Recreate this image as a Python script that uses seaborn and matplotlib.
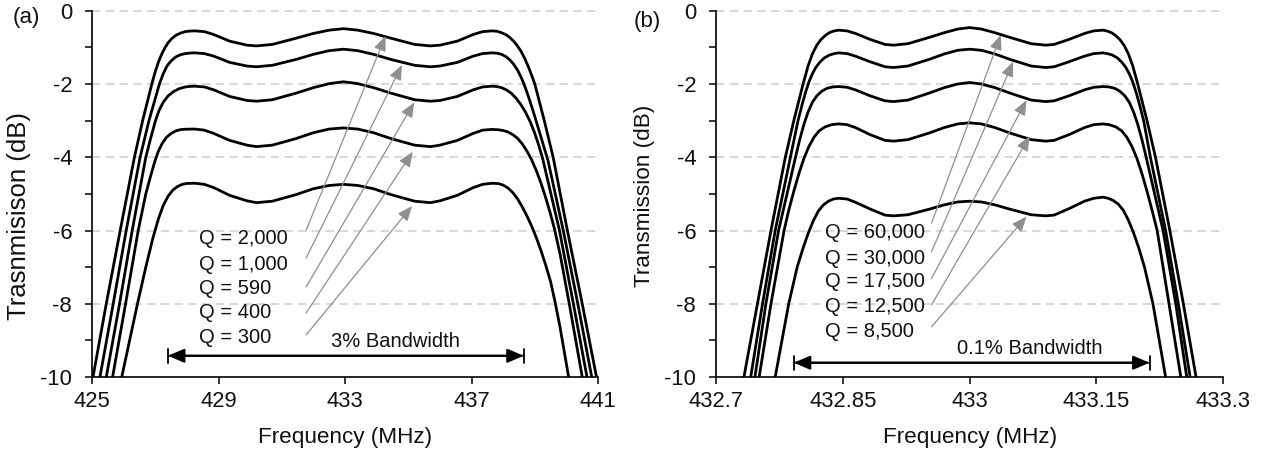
import matplotlib
matplotlib.use("Agg")
import matplotlib.pyplot as plt
import seaborn as sns
import pandas as pd

# ---------------- data ----------------
# Panel (a): frequency in MHz, transmission in dB
a_q_labels = ["Q = 2,000", "Q = 1,000", "Q = 590", "Q = 400", "Q = 300"]
a_plateau_f = [428.25, 428.55, 428.85, 429.35, 429.9, 430.2, 430.7, 431.45, 432.0, 432.5, 432.95,
               433.4, 433.9, 434.45, 435.2, 435.7, 436.0, 436.55, 437.05, 437.35, 437.65]

a1_left_f = [424.86, 425.03, 425.45, 425.89, 426.34, 426.6, 426.89, 427.0, 427.1, 427.2, 427.3,
             427.4, 427.52, 427.65, 427.8, 427.95, 428.1]
a1_left_db = [-10.8, -10, -8, -6, -4, -3, -2, -1.66, -1.4, -1.19, -1.02, -0.88, -0.76, -0.67,
              -0.61, -0.57, -0.555]
a1_plateau_db = [-0.55, -0.57, -0.65, -0.83, -0.94, -0.96, -0.92, -0.75, -0.62, -0.53, -0.49,
                 -0.53, -0.62, -0.75, -0.92, -0.96, -0.94, -0.83, -0.65, -0.57, -0.55]
a1_right_f = [437.8, 437.95, 438.1, 438.22, 438.34, 438.45, 438.56, 438.68, 438.8, 438.9, 439.0,
              439.3, 439.58, 440.03, 440.5, 440.95, 441.15]
a1_right_db = [-0.56, -0.6, -0.66, -0.74, -0.84, -0.96, -1.1, -1.3, -1.54, -1.76, -2.0, -3.0,
               -4.0, -6.0, -8.0, -10.0, -10.8]

a2_left_f = [425.08, 425.25, 425.67, 426.08, 426.52, 426.8, 427.13, 427.25, 427.37, 427.5, 427.65,
             427.8, 427.95, 428.1]
a2_left_db = [-10.8, -10, -8, -6, -4, -3, -2, -1.72, -1.51, -1.37, -1.26, -1.2, -1.17, -1.155]
a2_plateau_db = [-1.15, -1.17, -1.24, -1.41, -1.51, -1.53, -1.49, -1.33, -1.19, -1.09, -1.05,
                 -1.09, -1.19, -1.33, -1.49, -1.53, -1.51, -1.41, -1.24, -1.17, -1.15]
a2_right_f = [437.8, 437.95, 438.1, 438.22, 438.34, 438.46, 438.58, 438.7, 438.82, 438.94, 439.06,
              439.42, 439.9, 440.36, 440.8, 441.0]
a2_right_db = [-1.16, -1.19, -1.26, -1.35, -1.47, -1.63, -1.84, -2.1, -2.4, -2.72, -3.06, -4.1,
               -6.0, -8.0, -10.0, -10.8]

a3_left_f = [425.28, 425.45, 425.87, 426.27, 426.7, 426.86, 427.0, 427.12, 427.25, 427.4, 427.57,
             427.75, 427.95, 428.1]
a3_left_db = [-10.8, -10, -8, -6, -4, -3.46, -3.02, -2.72, -2.5, -2.33, -2.21, -2.13, -2.08, -2.065]
a3_plateau_db = [-2.06, -2.08, -2.16, -2.34, -2.45, -2.47, -2.43, -2.25, -2.1, -1.99, -1.94,
                 -1.99, -2.1, -2.25, -2.43, -2.47, -2.45, -2.34, -2.16, -2.08, -2.06]
a3_right_f = [437.8, 437.95, 438.1, 438.25, 438.4, 438.55, 438.7, 438.85, 439.0, 439.12, 439.25,
              439.78, 440.22, 440.65, 440.85]
a3_right_db = [-2.07, -2.1, -2.16, -2.25, -2.38, -2.55, -2.76, -3.02, -3.35, -3.66, -4.04, -6.0,
               -8.0, -10.0, -10.8]

a4_left_f = [425.48, 425.65, 426.06, 426.46, 426.7, 426.85, 426.99, 427.1, 427.22, 427.35, 427.5,
             427.65, 427.8, 427.95]
a4_left_db = [-10.8, -10, -8, -6, -5, -4.52, -4.1, -3.83, -3.62, -3.46, -3.35, -3.28, -3.245, -3.235]
a4_plateau_db = [-3.23, -3.26, -3.35, -3.54, -3.67, -3.71, -3.67, -3.49, -3.33, -3.23, -3.2,
                 -3.23, -3.33, -3.49, -3.67, -3.71, -3.67, -3.54, -3.35, -3.26, -3.24]
a4_right_f = [437.85, 438.0, 438.15, 438.3, 438.45, 438.6, 438.75, 438.9, 439.05, 439.2, 439.35,
              439.48, 439.62, 439.8, 440.09, 440.5, 440.7]
a4_right_db = [-3.25, -3.27, -3.31, -3.38, -3.48, -3.63, -3.83, -4.07, -4.37, -4.72, -5.12, -5.5,
               -5.95, -6.65, -8.0, -10.0, -10.8]

a5_left_f = [425.76, 425.94, 426.2, 426.45, 426.7, 426.92, 427.1, 427.25, 427.4, 427.55, 427.7,
             427.85, 428.0]
a5_left_db = [-10.8, -10, -8.95, -7.95, -7.0, -6.22, -5.68, -5.32, -5.07, -4.9, -4.8, -4.74, -4.715]
a5_plateau_db = [-4.71, -4.74, -4.83, -5.04, -5.19, -5.24, -5.2, -5.02, -4.86, -4.77, -4.74,
                 -4.77, -4.86, -5.02, -5.2, -5.24, -5.19, -5.04, -4.83, -4.74, -4.71]
a5_right_f = [437.85, 438.0, 438.15, 438.3, 438.45, 438.6, 438.75, 438.9, 439.05, 439.2, 439.35,
              439.5, 439.64, 439.8, 440.07, 440.25]
a5_right_db = [-4.72, -4.76, -4.84, -4.96, -5.13, -5.35, -5.6, -5.88, -6.2, -6.56, -6.96, -7.4,
               -7.95, -8.65, -10.0, -10.8]

a_text_f = 428.39
a_text_db = [-6.22, -6.92, -7.57, -8.25, -8.92]
a_arrow_tail_f = 431.77
a_arrow_tail_db = [-5.99, -6.75, -7.54, -8.25, -8.85]
a_arrow_tip_f = [434.28, 434.8, 435.19, 435.14, 435.12]
a_arrow_tip_db = [-0.69, -1.48, -2.5, -3.85, -5.33]
a_bw_f = [427.4, 438.65]
a_bw_db = -9.42
a_bw_text = "3% Bandwidth"
a_bw_text_pos = (434.6, -9.03)

# Panel (b)
b_q_labels = ["Q = 60,000", "Q = 30,000", "Q = 17,500", "Q = 12,500", "Q = 8,500"]
b_plateau_f = [432.845, 432.855, 432.865, 432.882, 432.9, 432.91, 432.927, 432.952, 432.97, 432.986, 433.0,
               433.014, 433.03, 433.048, 433.073, 433.09, 433.1, 433.118, 433.136, 433.147, 433.158]

b1_left_f = [432.728, 432.733, 432.749, 432.765, 432.782, 432.792, 432.803, 432.809, 432.814,
             432.819, 432.824, 432.829, 432.834, 432.839]
b1_left_db = [-10.8, -10, -8, -6, -4, -3, -2, -1.5, -1.18, -0.95, -0.79, -0.68, -0.6, -0.555]
b1_plateau_db = [-0.53, -0.55, -0.62, -0.78, -0.92, -0.94, -0.9, -0.73, -0.6, -0.5, -0.46,
                 -0.5, -0.6, -0.73, -0.9, -0.94, -0.92, -0.78, -0.62, -0.55, -0.53]
b1_right_f = [433.163, 433.168, 433.173, 433.178, 433.183, 433.188, 433.193, 433.199, 433.21,
              433.22, 433.237, 433.253, 433.268, 433.273]
b1_right_db = [-0.555, -0.6, -0.68, -0.79, -0.95, -1.18, -1.5, -2.0, -3.0, -4.0, -6.0, -8.0, -10.0, -10.8]

b2_left_f = [432.736, 432.741, 432.755, 432.770, 432.788, 432.797, 432.802, 432.806, 432.81,
             432.814, 432.818, 432.823, 432.828, 432.834, 432.84]
b2_left_db = [-10.8, -10, -8, -6, -4, -3, -2.55, -2.22, -1.94, -1.72, -1.55, -1.4, -1.29, -1.21, -1.17]
b2_plateau_db = [-1.15, -1.17, -1.24, -1.39, -1.53, -1.55, -1.51, -1.33, -1.18, -1.08, -1.05,
                 -1.08, -1.18, -1.33, -1.51, -1.55, -1.53, -1.39, -1.24, -1.17, -1.15]
b2_right_f = [433.163, 433.169, 433.175, 433.18, 433.185, 433.189, 433.193, 433.197, 433.201,
              433.206, 433.214, 433.232, 433.247, 433.261, 433.266]
b2_right_db = [-1.17, -1.21, -1.29, -1.4, -1.55, -1.72, -1.94, -2.22, -2.55, -3.0, -4.0, -6.0,
               -8.0, -10.0, -10.8]

b3_left_f = [432.741, 432.746, 432.759, 432.774, 432.794, 432.799, 432.804, 432.809, 432.814,
             432.819, 432.825, 432.831, 432.838]
b3_left_db = [-10.8, -10, -8, -6, -4, -3.52, -3.1, -2.76, -2.5, -2.33, -2.2, -2.12, -2.08]
b3_plateau_db = [-2.07, -2.09, -2.16, -2.32, -2.46, -2.48, -2.44, -2.25, -2.1, -2.0, -1.96,
                 -2.0, -2.1, -2.25, -2.44, -2.48, -2.46, -2.32, -2.16, -2.09, -2.07]
b3_right_f = [433.165, 433.172, 433.178, 433.184, 433.189, 433.194, 433.199, 433.204, 433.209,
              433.229, 433.244, 433.257, 433.262]
b3_right_db = [-2.08, -2.12, -2.2, -2.33, -2.5, -2.76, -3.1, -3.52, -4.0, -6.0, -8.0, -10.0, -10.8]

b4_left_f = [432.746, 432.751, 432.765, 432.7805, 432.786, 432.792, 432.798, 432.804, 432.81,
             432.816, 432.822, 432.829, 432.837]
b4_left_db = [-10.8, -10, -8, -6, -5.45, -4.93, -4.45, -4.03, -3.7, -3.45, -3.28, -3.17, -3.11]
b4_plateau_db = [-3.09, -3.11, -3.19, -3.38, -3.54, -3.56, -3.52, -3.34, -3.19, -3.09, -3.06,
                 -3.09, -3.19, -3.34, -3.52, -3.56, -3.54, -3.38, -3.19, -3.11, -3.09]
b4_right_f = [433.165, 433.173, 433.18, 433.186, 433.192, 433.198, 433.204, 433.21, 433.216,
              433.222, 433.236, 433.25, 433.255]
b4_right_db = [-3.11, -3.17, -3.28, -3.45, -3.7, -4.03, -4.45, -4.93, -5.45, -6.0, -8.0, -10.0, -10.8]

b5_left_f = [432.765, 432.770, 432.786, 432.796, 432.803, 432.809, 432.815, 432.821, 432.827,
             432.833, 432.839]
b5_left_db = [-10.8, -10, -8, -7, -6.48, -6.08, -5.74, -5.47, -5.3, -5.2, -5.14]
b5_plateau_db = [-5.12, -5.14, -5.23, -5.41, -5.58, -5.6, -5.57, -5.42, -5.3, -5.22, -5.2,
                 -5.22, -5.3, -5.42, -5.57, -5.6, -5.58, -5.4, -5.2, -5.12, -5.09]
b5_right_f = [433.164, 433.17, 433.176, 433.182, 433.188, 433.194, 433.2, 433.207, 433.217,
              433.232, 433.237]
b5_right_db = [-5.12, -5.18, -5.28, -5.45, -5.72, -6.06, -6.46, -7.0, -8.0, -10.0, -10.8]

b_text_f = 432.8286
b_text_db = [-6.06, -6.76, -7.4, -8.08, -8.76]
b_arrow_tail_f = 432.955
b_arrow_tail_db = [-5.8, -6.58, -7.31, -8.03, -8.63]
b_arrow_tip_f = [433.037, 433.0516, 433.0674, 433.0713, 433.0674]
b_arrow_tip_db = [-0.66, -1.39, -2.44, -3.42, -5.62]
b_bw_f = [432.792, 433.213]
b_bw_db = -9.61
b_bw_text = "0.1% Bandwidth"
b_bw_text_pos = (433.071, -9.22)

# axes ticks
a_xticks = [425, 429, 433, 437, 441]
a_xticklabels = ["425", "429", "433", "437", "441"]
b_xticks = [432.7, 432.85, 433.0, 433.15, 433.3]
b_xticklabels = ["432.7", "432.85", "433", "433.15", "433.3"]
y_major = [0, -2, -4, -6, -8, -10]
y_major_labels = ["0", "-2", "-4", "-6", "-8", "-10"]
y_minor = [-1, -3, -5, -7, -9]
grid_levels = [0, -2, -4, -6, -8]

# ---------------- build tidy tables ----------------
def build(curves, plateau_f, labels):
    rows = []
    for lab, (lf, ld, pd_, rf, rd) in zip(labels, curves):
        f = lf + plateau_f + rf
        d = ld + pd_ + rd
        for i, (fi, di) in enumerate(zip(f, d)):
            rows.append({"curve": lab, "order": i, "f": fi, "db": di})
    return pd.DataFrame(rows)

df_a = build([(a1_left_f, a1_left_db, a1_plateau_db, a1_right_f, a1_right_db),
              (a2_left_f, a2_left_db, a2_plateau_db, a2_right_f, a2_right_db),
              (a3_left_f, a3_left_db, a3_plateau_db, a3_right_f, a3_right_db),
              (a4_left_f, a4_left_db, a4_plateau_db, a4_right_f, a4_right_db),
              (a5_left_f, a5_left_db, a5_plateau_db, a5_right_f, a5_right_db)],
             a_plateau_f, a_q_labels)
df_b = build([(b1_left_f, b1_left_db, b1_plateau_db, b1_right_f, b1_right_db),
              (b2_left_f, b2_left_db, b2_plateau_db, b2_right_f, b2_right_db),
              (b3_left_f, b3_left_db, b3_plateau_db, b3_right_f, b3_right_db),
              (b4_left_f, b4_left_db, b4_plateau_db, b4_right_f, b4_right_db),
              (b5_left_f, b5_left_db, b5_plateau_db, b5_right_f, b5_right_db)],
             b_plateau_f, b_q_labels)

# ---------------- style ----------------
sns.set_theme(style="ticks")
plt.rcParams['font.family'] = ['Liberation Sans', 'DejaVu Sans']
plt.rcParams['axes.unicode_minus'] = False

fig = plt.figure(figsize=(12.66, 4.55), dpi=100)
axA = fig.add_axes([0.0727, 0.1714, 0.3997, 0.805])
axB = fig.add_axes([0.5656, 0.1714, 0.4005, 0.805])

GRAY_ARROW = '#8f8f8f'


def draw_panel(ax, df, labels, xlim, xticks, xticklabels, ylabel, ylabel_size, ylabel_y,
               text_f, text_db, tail_f, tail_db, tip_f, tip_db, bw_f, bw_db, bw_text, bw_pos):
    for v in grid_levels:
        ax.axhline(v, color='#d9d9d9', lw=1.5, ls=(0, (4, 2.6)), zorder=0, clip_on=False)
    pal = {lab: 'black' for lab in labels}
    sns.lineplot(data=df, x='f', y='db', hue='curve', palette=pal, units='curve',
                 estimator=None, sort=False, lw=2.0, legend=False, ax=ax, zorder=3)
    ax.set_xlim(*xlim)
    ax.set_ylim(-10, 0)
    ax.set_xticks(xticks)
    ax.set_xticklabels(xticklabels)
    ax.set_yticks(y_major)
    ax.set_yticklabels(y_major_labels)
    ax.set_yticks(y_minor, minor=True)
    sns.despine(ax=ax)
    for s in ['left', 'bottom']:
        ax.spines[s].set_linewidth(1.2)
        ax.spines[s].set_color('black')
        ax.spines[s].set_zorder(4)
    ax.tick_params(axis='both', which='both', direction='out', length=4.8, width=1.1,
                   color='black', labelsize=15.8, labelcolor='#111111')
    ax.tick_params(axis='y', which='both', pad=9.5)
    ax.tick_params(axis='x', which='both', pad=5.5)
    ax.set_xlabel('Frequency (MHz)', fontsize=16.2, color='#111111')
    ax.xaxis.set_label_coords(0.5, -0.136)
    ax.set_ylabel(ylabel, fontsize=ylabel_size, color='#111111')
    ax.yaxis.set_label_coords(-0.12, ylabel_y)
    ax.grid(False)

    for lab, ty in zip(labels, text_db):
        ax.text(text_f, ty, lab, fontsize=14.5, ha='left', va='center', color='#111111', zorder=5)
    for ty, xf, yf in zip(tail_db, tip_f, tip_db):
        ax.annotate('', xy=(xf, yf), xytext=(tail_f, ty),
                    arrowprops=dict(arrowstyle='-|>,head_length=0.65,head_width=0.27',
                                    color=GRAY_ARROW, lw=0.9, mutation_scale=14,
                                    shrinkA=0, shrinkB=0), zorder=4)
    ax.annotate('', xy=(bw_f[1], bw_db), xytext=(bw_f[0], bw_db),
                arrowprops=dict(arrowstyle='<|-|>,head_length=0.7,head_width=0.3',
                                color='black', lw=1.6, mutation_scale=14,
                                shrinkA=0, shrinkB=0), zorder=5)
    ax.annotate('', xy=(bw_f[1], bw_db), xytext=(bw_f[0], bw_db),
                arrowprops=dict(arrowstyle='|-|,widthA=0.35,widthB=0.35',
                                color='black', lw=1.3, mutation_scale=14,
                                shrinkA=0, shrinkB=0), zorder=5)
    ax.text(bw_pos[0], bw_pos[1], bw_text, fontsize=14.5, ha='center', va='center',
            color='#111111', zorder=5)


draw_panel(axA, df_a, a_q_labels, (425, 441), a_xticks, a_xticklabels,
           'Trasnmisison (dB)', 18.5, 0.44,
           a_text_f, a_text_db, a_arrow_tail_f, a_arrow_tail_db, a_arrow_tip_f, a_arrow_tip_db,
           a_bw_f, a_bw_db, a_bw_text, a_bw_text_pos)
draw_panel(axB, df_b, b_q_labels, (432.7, 433.3), b_xticks, b_xticklabels,
           'Transmission (dB)', 16.2, 0.494,
           b_text_f, b_text_db, b_arrow_tail_f, b_arrow_tail_db, b_arrow_tip_f, b_arrow_tip_db,
           b_bw_f, b_bw_db, b_bw_text, b_bw_text_pos)

fig.text(26 / 1266, 1 - 18 / 455, '(a)', fontsize=16, ha='center', va='center', color='#111111')
fig.text(647 / 1266, 1 - 21 / 455, '(b)', fontsize=16, ha='center', va='center', color='#111111')

fig.savefig('out.png', dpi=100)
